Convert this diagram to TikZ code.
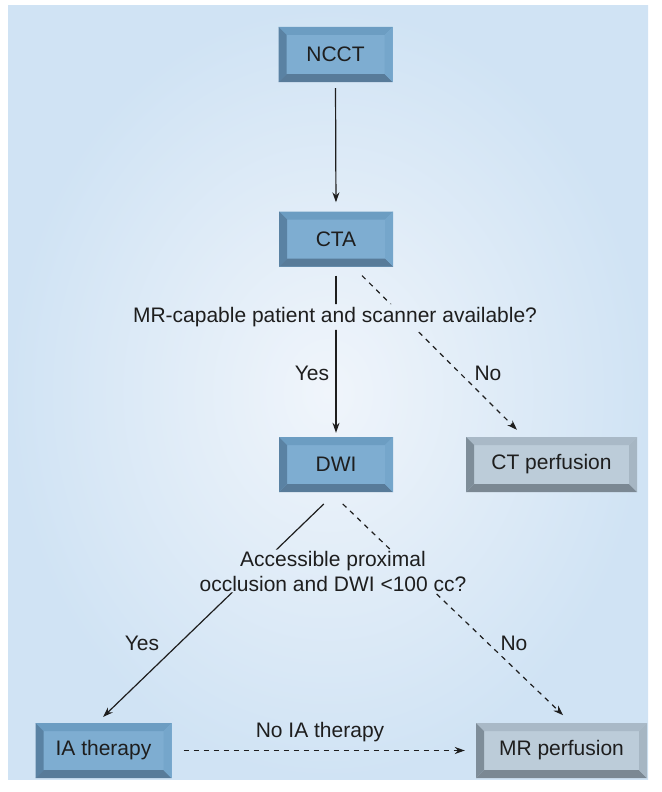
\documentclass[tikz,border=0pt]{standalone}
\usepackage{fontspec}
\setmainfont{Liberation Sans}
\usetikzlibrary{calc,arrows.meta}
\definecolor{bgin}{HTML}{F0F5FB}
\definecolor{bgout}{HTML}{D0E3F4}
\definecolor{blueface}{HTML}{7EADD1}
\definecolor{bluetop}{HTML}{6C9DC2}
\definecolor{blueleft}{HTML}{5A82A3}
\definecolor{blueright}{HTML}{75A6CB}
\definecolor{bluebot}{HTML}{587B99}
\definecolor{grayface}{HTML}{BCCCD9}
\definecolor{graytop}{HTML}{A9B9C7}
\definecolor{grayleft}{HTML}{7E8D99}
\definecolor{grayright}{HTML}{A6B6C3}
\definecolor{graybot}{HTML}{7B8893}
\definecolor{ink}{HTML}{1E1E1E}
\tikzset{
  bevel/.style={fill=#1face, inner sep=0pt, text=ink,
    path picture={
      \coordinate (@nw) at (path picture bounding box.north west);
      \coordinate (@ne) at (path picture bounding box.north east);
      \coordinate (@sw) at (path picture bounding box.south west);
      \coordinate (@se) at (path picture bounding box.south east);
      \fill[#1top] (@nw) -- (@ne) -- ($(@ne)+(-8pt,-8pt)$) -- ($(@nw)+(8pt,-8pt)$) -- cycle;
      \fill[#1bot] (@sw) -- (@se) -- ($(@se)+(-8pt,8pt)$) -- ($(@sw)+(8pt,8pt)$) -- cycle;
      \fill[#1left] (@nw) -- ($(@nw)+(8pt,-8pt)$) -- ($(@sw)+(8pt,8pt)$) -- (@sw) -- cycle;
      \fill[#1right] (@ne) -- ($(@ne)+(-8pt,-8pt)$) -- ($(@se)+(-8pt,8pt)$) -- (@se) -- cycle;
    }},
  smallbox/.style={bevel=blue, minimum width=114pt, minimum height=55pt},
  widebox/.style={minimum width=136pt, minimum height=55pt},
  longbox/.style={minimum width=171pt, minimum height=55pt},
  lbl/.style={text=ink, inner sep=3pt},
  conn/.style={line width=1.2pt, draw=ink, -{Stealth[length=10pt,width=7pt]}},
  dconn/.style={conn, dash pattern=on 5pt off 5pt}
}
\begin{document}
\begin{tikzpicture}[x=1pt,y=-1pt,font=\fontsize{21}{25}\selectfont]
\useasboundingbox (0,0) rectangle (661,792);
\shade[inner color=bgin, outer color=bgout] (8,6) rectangle (648,779);

\node[smallbox] (ncct) at (335.5,54.5) {NCCT};
\node[smallbox] (cta) at (336,239) {CTA};
\node[smallbox] (dwi) at (336,464.5) {DWI};
\node[bevel=gray, longbox] (ctp) at (551.5,464.5) {CT perfusion};
\node[bevel=blue, widebox] (ia) at (103.5,750.5) {IA therapy};
\node[bevel=gray, longbox] (mrp) at (561.5,750.5) {MR perfusion};

\node[lbl] (q1) at (335,317) {MR-capable patient and scanner available?};
\node[lbl, align=center, inner sep=1pt] (q2) at (333,571) {Accessible proximal\\occlusion and DWI <100 cc?};
\node[lbl] (yes1) at (312,373) {Yes};
\node[lbl] (no1) at (488,373) {No};
\node[lbl] (yes2) at (142,643) {Yes};
\node[lbl] (no2) at (514,643) {No};
\node[lbl] (noia) at (320,732) {No IA therapy};

\begin{scope}[even odd rule]
\clip (0,0) rectangle (661,792)
  (q1.north west) rectangle (q1.south east)
  (q2.north west) rectangle (q2.south east);
\draw[conn, shorten <=6pt, shorten >=9pt] (ncct.south) -- (cta.north);
\draw[conn, shorten <=9pt, shorten >=4pt] (cta.south) -- (dwi.north);
\draw[dconn, shorten <=12.7pt, shorten >=9.9pt] ($(cta.south)+(17,0)$) -- ($(ctp.north)+(-27.5,0)$);
\draw[conn, shorten <=17pt, shorten >=8.5pt] (dwi.south) -- ($(ia.north)+(-6.5,0)$);
\draw[dconn, shorten <=17pt, shorten >=11pt] ($(dwi.south)+(-5.5,0)$) -- ($(mrp.north)+(9.5,0)$);
\draw[dconn, shorten <=12pt, shorten >=11pt] (ia.east) -- (mrp.west);
\end{scope}
\end{tikzpicture}
\end{document}
